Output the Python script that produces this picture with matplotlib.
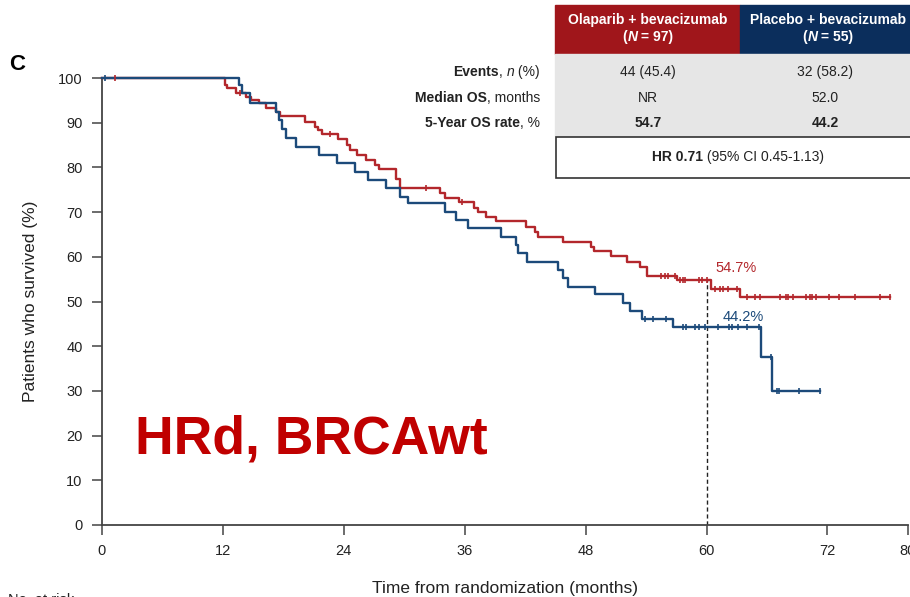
import numpy as np
import matplotlib
matplotlib.use('Agg')
import matplotlib.pyplot as plt
from matplotlib.patches import Rectangle

# Olaparib + bevacizumab (red) – step change points (months, % surviving)
red_t = [0, 12.2, 12.4, 13.3, 14.3, 14.8, 15.6, 16.3, 17.3, 17.7, 20.1, 21.1, 21.4, 21.8,
         23.4, 24.3, 24.6, 25.3, 26.2, 27.1, 27.5, 29.2, 29.6, 33.5, 34.0, 35.4, 36.9, 37.3,
         38.1, 39.1, 42.1, 43.0, 43.3, 45.8, 48.5, 48.8, 50.5, 52.1, 53.4, 54.1, 57.1, 60.4,
         63.3, 78.2]
red_s = [100, 98.4, 97.7, 96.7, 95.8, 95.1, 94.3, 93.4, 92.5, 91.5, 90.2, 89.1, 88.4, 87.5,
         86.3, 85.0, 83.9, 82.8, 81.7, 80.5, 79.6, 77.5, 75.3, 74.3, 73.2, 72.2, 71.0, 70.0,
         68.8, 67.9, 66.7, 65.6, 64.5, 63.4, 62.3, 61.3, 60.1, 58.8, 57.8, 55.7, 54.7, 52.9,
         51.1, 51.1]
red_cens = [1.3, 13.7, 22.6, 32.2, 35.7, 55.5, 55.9, 56.2, 56.9, 57.4, 57.7, 57.9, 59.3, 59.6,
            60.0, 60.8, 61.3, 61.6, 62.1, 63.0, 64.0, 64.8, 65.3, 67.3, 67.9, 68.1, 68.6, 69.9,
            70.3, 70.5, 70.9, 72.2, 73.2, 74.7, 77.2, 78.2]

# Placebo + bevacizumab (blue)
blue_t = [0, 13.6, 13.9, 14.7, 17.3, 17.6, 17.9, 18.3, 19.3, 21.5, 23.3, 25.1, 26.4, 28.2,
          29.6, 30.4, 34.0, 35.1, 36.3, 39.6, 41.1, 41.3, 42.2, 45.3, 45.8, 46.3, 48.9, 51.7,
          52.4, 53.6, 56.7, 65.4, 66.5, 71.3]
blue_s = [100, 98.4, 96.6, 94.3, 92.5, 90.6, 88.7, 86.5, 84.6, 82.8, 80.9, 79.0, 77.2, 75.3,
          73.4, 72.0, 70.1, 68.2, 66.4, 64.5, 62.6, 60.8, 58.9, 57.0, 55.2, 53.3, 51.6, 49.7,
          47.9, 46.0, 44.2, 37.5, 29.9, 29.9]
blue_cens = [0.3, 53.9, 54.7, 56.0, 57.7, 58.0, 58.9, 59.3, 59.9, 61.1, 62.2, 62.5, 63.1, 64.0,
             65.2, 66.4, 67.0, 67.2, 69.2, 71.3]

x_ticks = [0, 12, 24, 36, 48, 60, 72, 80]
y_ticks = list(range(0, 101, 10))

row_labels = [[('Events', 'bold', 'normal'), (', ', 'normal', 'normal'), ('n', 'normal', 'italic'), (' (%)', 'normal', 'normal')],
              [('Median OS', 'bold', 'normal'), (', months', 'normal', 'normal')],
              [('5-Year OS rate', 'bold', 'normal'), (', %', 'normal', 'normal')]]
ola_vals = ['44 (45.4)', 'NR', '54.7']
pla_vals = ['32 (58.2)', '52.0', '44.2']

RED = '#b3272c'
BLUE = '#1c4a7a'
W, H = 910, 597

plt.rcParams['font.family'] = ['Liberation Sans', 'DejaVu Sans']

fig = plt.figure(figsize=(W / 100, H / 100), dpi=100)
ax = fig.add_axes([102 / W, 1 - 525 / H, 806 / W, (525 - 78) / H])


def surv_at(t, s, x):
    i = np.searchsorted(t, x, side='right') - 1
    return np.array(s)[i]


for t, s, cens, col in [(red_t, red_s, red_cens, RED), (blue_t, blue_s, blue_cens, BLUE)]:
    ax.step(t, s, where='post', color=col, lw=1.7, clip_on=False, zorder=3)
    ax.plot(cens, surv_at(t, s, cens), ls='none', marker='|', ms=4.5, mew=1.2,
            color=col, clip_on=False, zorder=4)

ax.vlines(60, 0, 54.7, colors='#222222', linestyles=(0, (3, 2)), lw=1.0, zorder=2)
ax.text(60.9, 57.5, '54.7%', color=RED, fontsize=10.5, va='center', ha='left')
ax.text(61.6, 46.6, '44.2%', color=BLUE, fontsize=10.5, va='center', ha='left')

ax.set_xlim(0, 80)
ax.set_ylim(0, 100)
ax.set_xticks(x_ticks)
ax.set_yticks(y_ticks)
for sp in ['top', 'right']:
    ax.spines[sp].set_visible(False)
for sp in ['left', 'bottom']:
    ax.spines[sp].set_color('#444444')
    ax.spines[sp].set_linewidth(1.3)
ax.tick_params(direction='out', length=7, width=1.1, color='#444444', labelsize=10.5,
               labelcolor='#222222', pad=7)
ax.set_xlabel('Time from randomization (months)', fontsize=12.5, color='#222222', labelpad=16)
ax.set_ylabel('Patients who survived (%)', fontsize=12.5, color='#222222', labelpad=14)

fig.text(9 / W, 1 - 65 / H, 'C', fontsize=16, fontweight='bold', va='center')
fig.text(135 / W, 1 - 440 / H, 'HRd, BRCAwt', fontsize=38.5, fontweight='bold', color='#c00000',
         va='center', ha='left')
fig.text(8 / W, 1 - 604 / H, 'No. at risk', fontsize=10.5, va='baseline', color='#222222')

# table in the top right
fig.add_artist(Rectangle((555 / W, 1 - 54 / H), 185 / W, 49 / H, transform=fig.transFigure,
                         color='#a0161b', zorder=1))
fig.add_artist(Rectangle((740 / W, 1 - 54 / H), 175 / W, 49 / H, transform=fig.transFigure,
                         color='#0b2e5c', zorder=1))
fig.add_artist(Rectangle((555 / W, 1 - 136 / H), 360 / W, 82 / H, transform=fig.transFigure,
                         color='#e6e6e6', zorder=1))
fig.add_artist(Rectangle((556 / W, 1 - 178 / H), 360 / W, 41 / H, transform=fig.transFigure,
                         facecolor='white', edgecolor='#333333', lw=1.2, zorder=1))

renderer = fig.canvas.get_renderer()


def rich_text(x, y, parts, ha='left', **kw):
    texts = [fig.text(0, 0, s, fontweight=wt, fontstyle=st, va='center', ha='left', **kw)
             for s, wt, st in parts]
    widths = [tx.get_window_extent(renderer).width for tx in texts]
    total = sum(widths)
    start = {'left': x, 'right': x - total, 'center': x - total / 2}[ha]
    for tx, wd in zip(texts, widths):
        tx.set_position((start / W, 1 - y / H))
        start += wd


for cx, name, n in [(648, 'Olaparib + bevacizumab', '97'), (828, 'Placebo + bevacizumab', '55')]:
    fig.text(cx / W, 1 - 20 / H, name, color='white', fontsize=10, fontweight='bold',
             ha='center', va='center')
    rich_text(cx, 37, [('(', 'bold', 'normal'), ('N', 'bold', 'italic'),
                       (' = ' + n + ')', 'bold', 'normal')], ha='center', color='white', fontsize=10)

for i, (lab, a, b) in enumerate(zip(row_labels, ola_vals, pla_vals)):
    y = 72 + i * 25.5
    rich_text(540, y, lab, ha='right', fontsize=10, color='#222222')
    wt = 'bold' if i == 2 else 'normal'
    fig.text(648 / W, 1 - y / H, a, fontsize=10, fontweight=wt, ha='center', va='center', color='#222222')
    fig.text(825 / W, 1 - y / H, b, fontsize=10, fontweight=wt, ha='center', va='center', color='#222222')

rich_text(738, 157, [('HR 0.71', 'bold', 'normal'), (' (95% CI 0.45-1.13)', 'normal', 'normal')],
          ha='center', fontsize=10, color='#222222')

fig.savefig('out.png', dpi=100)
